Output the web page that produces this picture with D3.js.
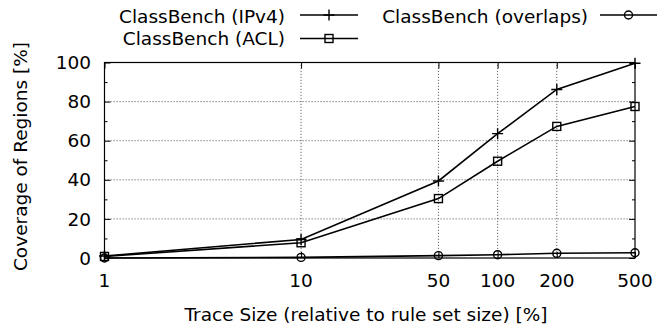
<!DOCTYPE html>
<html>
<head>
<meta charset="utf-8">
<script src="https://cdn.jsdelivr.net/npm/d3@7"></script>
<style>
  html, body { margin: 0; padding: 0; background: #fff; }
  svg { display: block; font-family: "DejaVu Sans", sans-serif; }
</style>
</head>
<body>
<svg id="chart" width="672" height="326"></svg>
<script>
// Trace sizes (% of rule set size)
const traceSizes = [1, 10, 50, 100, 200, 500];
const xTickLabels = ["1", "10", "50", "100", "200", "500"];
const yTicks = [0, 20, 40, 60, 80, 100];

// Coverage of regions [%]
const ipv4 = [1.0, 9.5, 39.4, 63.6, 86.2, 99.6];
const acl = [0.8, 7.8, 30.4, 49.5, 67.3, 77.5];
const overlaps = [0.0, 0.3, 1.2, 1.7, 2.4, 2.7];

const seriesNames = ["ClassBench (IPv4)", "ClassBench (ACL)", "ClassBench (overlaps)"];
const seriesMarkers = ["plus", "square", "circle"];

const FS = 18.5;
const svg = d3.select("#chart");
const m = { left: 104.5, right: 635, top: 62.5, bottom: 258 };

const x = d3.scaleLog().domain([1, 500]).range([m.left, m.right]);
const y = d3.scaleLinear().domain([0, 100]).range([m.bottom, m.top]);

// Dotted grid
const grid = svg.append("g").attr("stroke", "#444").attr("stroke-width", 0.8)
  .attr("stroke-dasharray", "1.2,1.8");
grid.selectAll("line.gx").data(traceSizes.slice(1, -1)).enter().append("line")
  .attr("x1", d => x(d)).attr("x2", d => x(d))
  .attr("y1", m.bottom).attr("y2", m.top);
grid.selectAll("line.gy").data(yTicks.slice(1, -1)).enter().append("line")
  .attr("x1", m.left).attr("x2", m.right)
  .attr("y1", d => y(d)).attr("y2", d => y(d));

// Axes: ticks point inward on all four sides
const yMinor = d3.range(10, 100, 20);
svg.append("g").attr("transform", `translate(${m.left},0)`)
  .call(d3.axisRight(y).tickValues(yTicks).tickSize(6).tickFormat(""))
  .call(g => g.select(".domain").remove());
svg.append("g").attr("transform", `translate(${m.left},0)`)
  .call(d3.axisRight(y).tickValues(yMinor).tickSize(3).tickFormat(""))
  .call(g => g.select(".domain").remove());
svg.append("g").attr("transform", `translate(${m.right},0)`)
  .call(d3.axisLeft(y).tickValues(yTicks).tickSize(6).tickFormat(""))
  .call(g => g.select(".domain").remove());
svg.append("g").attr("transform", `translate(${m.right},0)`)
  .call(d3.axisLeft(y).tickValues(yMinor).tickSize(3).tickFormat(""))
  .call(g => g.select(".domain").remove());
svg.append("g").attr("transform", `translate(0,${m.bottom})`)
  .call(d3.axisTop(x).tickValues(traceSizes).tickSize(6).tickFormat(""))
  .call(g => g.select(".domain").remove());
svg.append("g").attr("transform", `translate(0,${m.top})`)
  .call(d3.axisBottom(x).tickValues(traceSizes).tickSize(6).tickFormat(""))
  .call(g => g.select(".domain").remove());
svg.selectAll(".tick line").attr("stroke", "#000").attr("stroke-width", 1);

// Frame
svg.append("rect").attr("x", m.left).attr("y", m.top)
  .attr("width", m.right - m.left).attr("height", m.bottom - m.top)
  .attr("fill", "none").attr("stroke", "#000").attr("stroke-width", 1.2);

// Tick labels
svg.append("g").selectAll("text").data(yTicks).enter().append("text")
  .attr("x", m.left - 13.5).attr("y", d => y(d)).attr("dy", "0.36em")
  .attr("text-anchor", "end").attr("font-size", FS).text(d => d);
svg.append("g").selectAll("text").data(traceSizes).enter().append("text")
  .attr("x", d => x(d)).attr("y", 287)
  .attr("text-anchor", "middle").attr("font-size", FS)
  .text((d, i) => xTickLabels[i]);

// Axis titles
svg.append("text").attr("x", 366).attr("y", 320.5).attr("text-anchor", "middle")
  .attr("font-size", FS).text("Trace Size (relative to rule set size) [%]");
svg.append("text").attr("transform", "translate(27,156.5) rotate(-90)")
  .attr("text-anchor", "middle").attr("font-size", FS).text("Coverage of Regions [%]");

// Marker drawing
function marker(g, type, cx, cy) {
  if (type === "plus") {
    g.append("path").attr("d", `M${cx - 5.5},${cy}H${cx + 5.5}M${cx},${cy - 5.5}V${cy + 5.5}`)
      .attr("stroke", "#000").attr("stroke-width", 1.4).attr("fill", "none");
  } else if (type === "square") {
    g.append("rect").attr("x", cx - 4).attr("y", cy - 4).attr("width", 8).attr("height", 8)
      .attr("stroke", "#000").attr("stroke-width", 1.4).attr("fill", "none");
  } else {
    g.append("circle").attr("cx", cx).attr("cy", cy).attr("r", 4)
      .attr("stroke", "#000").attr("stroke-width", 1.4).attr("fill", "none");
  }
}

const line = d3.line().x((d, i) => x(traceSizes[i])).y(d => y(d));
const allSeries = [ipv4, acl, overlaps];
allSeries.forEach((vals, s) => {
  const g = svg.append("g");
  g.append("path").datum(vals).attr("d", line)
    .attr("fill", "none").attr("stroke", "#000").attr("stroke-width", 1.6);
  vals.forEach((v, i) => marker(g, seriesMarkers[s], x(traceSizes[i]), y(v)));
});

// Legend
const legendPos = [
  { tx: 285, ty: 23, ly: 15, x1: 300, x2: 358 },
  { tx: 285, ty: 45, ly: 38.5, x1: 300, x2: 358 },
  { tx: 588, ty: 23, ly: 15, x1: 600, x2: 657 }
];
legendPos.forEach((p, s) => {
  const g = svg.append("g");
  g.append("text").attr("x", p.tx).attr("y", p.ty)
    .attr("text-anchor", "end").attr("font-size", FS).text(seriesNames[s]);
  g.append("line").attr("x1", p.x1).attr("x2", p.x2).attr("y1", p.ly).attr("y2", p.ly)
    .attr("stroke", "#000").attr("stroke-width", 1.6);
  marker(g, seriesMarkers[s], (p.x1 + p.x2) / 2, p.ly);
});
</script>
</body>
</html>
